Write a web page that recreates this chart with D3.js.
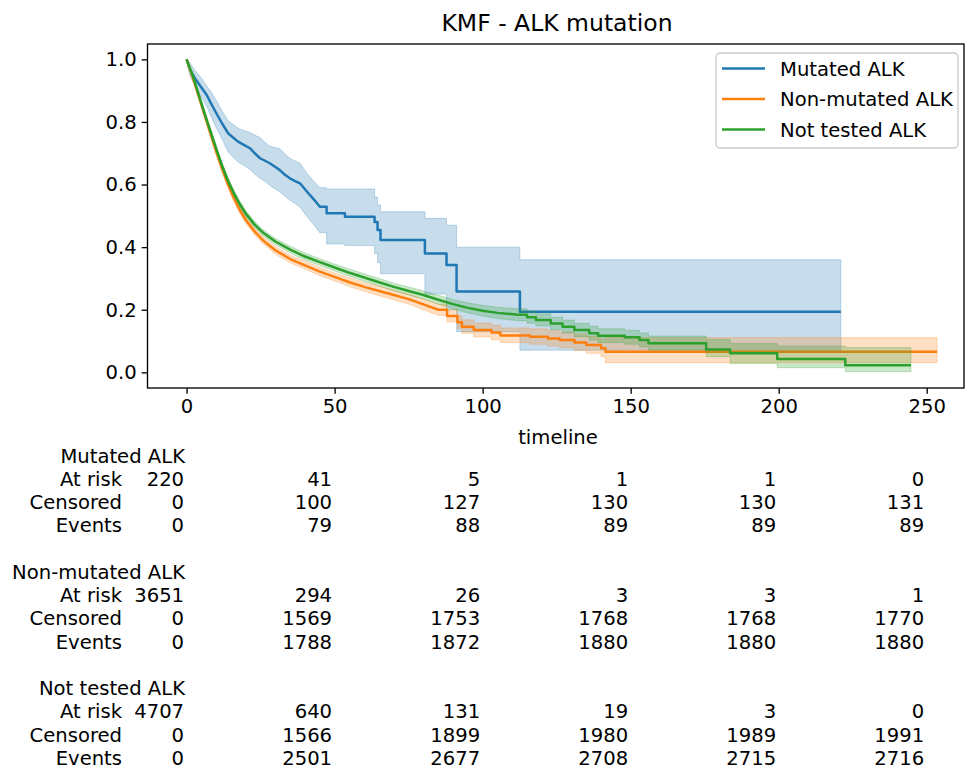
<!DOCTYPE html>
<html>
<head>
<meta charset="utf-8">
<script src="https://cdn.jsdelivr.net/npm/d3@7"></script>
<style>
  body { margin: 0; background: #fff; }
  svg text { font-family: "DejaVu Sans", sans-serif; fill: #000; }
</style>
</head>
<body>
<div id="chart"></div>
<script>
// Kaplan-Meier rows: [time, survival, lower CI, upper CI]
var mutatedKM = [
  [0, 1, 1, 1], [1, 0.97, 0.95, 0.99], [2.8, 0.94, 0.915, 0.965], [5, 0.91, 0.88, 0.94],
  [6.8, 0.886, 0.85, 0.915], [8.5, 0.855, 0.812, 0.893], [10.1, 0.827, 0.78, 0.868],
  [12, 0.795, 0.745, 0.835], [14, 0.764, 0.705, 0.805], [16, 0.748, 0.685, 0.79],
  [17.4, 0.737, 0.672, 0.78], [19.5, 0.726, 0.66, 0.772], [21.4, 0.716, 0.648, 0.766],
  [23, 0.7, 0.633, 0.758], [24.8, 0.684, 0.62, 0.75], [26.5, 0.676, 0.61, 0.735],
  [28.1, 0.668, 0.598, 0.722], [30, 0.656, 0.585, 0.718], [31.5, 0.646, 0.577, 0.714],
  [33, 0.633, 0.564, 0.7], [34.9, 0.62, 0.55, 0.684], [36.5, 0.612, 0.54, 0.676],
  [38.3, 0.604, 0.528, 0.668], [40, 0.585, 0.506, 0.645], [41.7, 0.566, 0.486, 0.624],
  [43.4, 0.548, 0.466, 0.606], [45, 0.529, 0.446, 0.59], [47.3, 0.508, 0.41, 0.586],
  [53.5, 0.497, 0.405, 0.586], [63.5, 0.48, 0.38, 0.56], [64.5, 0.455, 0.35, 0.535],
  [65.5, 0.423, 0.315, 0.513], [80.5, 0.38, 0.25, 0.492], [87.8, 0.343, 0.2, 0.47],
  [91.2, 0.258, 0.13, 0.4], [112.6, 0.194, 0.071, 0.36], [221, 0.194, 0.071, 0.36]
];

var nonMutatedKM = [
  [0, 1, 1, 1], [2, 0.945, 0.938, 0.952], [4, 0.885, 0.876, 0.894], [6, 0.825, 0.815, 0.835],
  [8, 0.765, 0.754, 0.776], [10, 0.705, 0.694, 0.716], [12, 0.65, 0.639, 0.661],
  [14, 0.6, 0.589, 0.611], [16, 0.556, 0.545, 0.567], [18, 0.518, 0.507, 0.529],
  [20, 0.487, 0.476, 0.498], [23, 0.45, 0.439, 0.461], [26, 0.42, 0.409, 0.432],
  [30, 0.39, 0.378, 0.402], [35, 0.362, 0.35, 0.374], [40, 0.342, 0.33, 0.355],
  [45, 0.322, 0.309, 0.335], [50, 0.305, 0.292, 0.318], [55, 0.288, 0.274, 0.302],
  [60, 0.273, 0.259, 0.287], [65, 0.26, 0.245, 0.275], [70, 0.247, 0.232, 0.262],
  [75, 0.234, 0.218, 0.25], [80, 0.217, 0.2, 0.234], [85, 0.2, 0.182, 0.218],
  [88, 0.18, 0.161, 0.2], [91.5, 0.16, 0.14, 0.181], [93, 0.146, 0.125, 0.168],
  [97, 0.135, 0.113, 0.158], [103, 0.127, 0.104, 0.151], [106, 0.118, 0.095, 0.142],
  [116, 0.114, 0.09, 0.139], [122, 0.108, 0.084, 0.133], [126, 0.103, 0.078, 0.129],
  [131, 0.095, 0.07, 0.122], [135, 0.087, 0.061, 0.115], [140, 0.077, 0.05, 0.106],
  [141.5, 0.066, 0.031, 0.111], [253.5, 0.066, 0.031, 0.111]
];

var notTestedKM = [
  [0, 1, 1, 1], [2, 0.95, 0.944, 0.956], [4, 0.89, 0.882, 0.898], [6, 0.83, 0.821, 0.839],
  [8, 0.772, 0.762, 0.782], [10, 0.715, 0.705, 0.725], [12, 0.66, 0.65, 0.67],
  [14, 0.612, 0.602, 0.622], [16, 0.572, 0.562, 0.582], [18, 0.537, 0.527, 0.547],
  [20, 0.507, 0.497, 0.517], [23, 0.472, 0.462, 0.482], [26, 0.445, 0.435, 0.455],
  [30, 0.418, 0.408, 0.428], [35, 0.392, 0.381, 0.403], [40, 0.37, 0.359, 0.381],
  [45, 0.352, 0.341, 0.363], [50, 0.335, 0.324, 0.346], [55, 0.318, 0.307, 0.33],
  [60, 0.303, 0.291, 0.315], [65, 0.288, 0.276, 0.3], [70, 0.273, 0.261, 0.285],
  [75, 0.26, 0.247, 0.273], [80, 0.247, 0.234, 0.26], [85, 0.232, 0.218, 0.246],
  [90, 0.218, 0.203, 0.233], [95, 0.206, 0.19, 0.222], [100, 0.197, 0.18, 0.214],
  [105, 0.19, 0.172, 0.208], [112, 0.184, 0.165, 0.203], [115, 0.176, 0.157, 0.195],
  [118, 0.167, 0.148, 0.187], [123, 0.156, 0.136, 0.176], [127, 0.146, 0.126, 0.167],
  [131, 0.135, 0.114, 0.156], [136, 0.125, 0.103, 0.147], [139, 0.117, 0.095, 0.139],
  [148, 0.112, 0.09, 0.134], [153, 0.103, 0.081, 0.126], [156, 0.093, 0.071, 0.116],
  [175.5, 0.073, 0.05, 0.105], [183.6, 0.061, 0.028, 0.092], [199.5, 0.043, 0.015, 0.084],
  [222.5, 0.023, 0.002, 0.079], [244.7, 0.023, 0.002, 0.079]
];

var groupNames = ["Mutated ALK", "Non-mutated ALK", "Not tested ALK"];
var groupColors = ["#1f77b4", "#ff7f0e", "#2ca02c"];
// before these times the curves are dense enough to draw as joined points
var stepFrom = [46, 86, 113];

var xTicks = [0, 50, 100, 150, 200, 250];
var yTicks = [0, 0.2, 0.4, 0.6, 0.8, 1.0];

// numbers at risk table, one column per x tick
var atRiskTimes = [0, 50, 100, 150, 200, 250];
var mutatedAtRisk = [220, 41, 5, 1, 1, 0];
var mutatedCensored = [0, 100, 127, 130, 130, 131];
var mutatedEvents = [0, 79, 88, 89, 89, 89];
var nonMutatedAtRisk = [3651, 294, 26, 3, 3, 1];
var nonMutatedCensored = [0, 1569, 1753, 1768, 1768, 1770];
var nonMutatedEvents = [0, 1788, 1872, 1880, 1880, 1880];
var notTestedAtRisk = [4707, 640, 131, 19, 3, 0];
var notTestedCensored = [0, 1566, 1899, 1980, 1989, 1991];
var notTestedEvents = [0, 2501, 2677, 2708, 2715, 2716];

var width = 965, height = 769;
var plotLeft = 147.5, plotRight = 964, plotTop = 44, plotBottom = 388;
var fontSize = 19.6;

var svg = d3.select("#chart").append("svg")
  .attr("width", width)
  .attr("height", height);

var x = d3.scaleLinear().domain([-13.2, 262.6]).range([plotLeft, plotRight]);
var y = d3.scaleLinear().domain([-0.05, 1.049]).range([plotBottom, plotTop]);

svg.append("clipPath").attr("id", "plot-clip")
  .append("rect")
  .attr("x", plotLeft).attr("y", plotTop)
  .attr("width", plotRight - plotLeft).attr("height", plotBottom - plotTop);

// turn KM rows into path vertices, adding the corner of each step
function stepPoints(rows, from) {
  var pts = [];
  rows.forEach(function (r, i) {
    if (i > 0 && r[0] > from) {
      var p = rows[i - 1];
      pts.push([r[0], p[1], p[2], p[3]]);
    }
    pts.push(r);
  });
  return pts;
}

var band = d3.area()
  .x(function (d) { return x(d[0]); })
  .y0(function (d) { return y(d[2]); })
  .y1(function (d) { return y(d[3]); });

var line = d3.line()
  .x(function (d) { return x(d[0]); })
  .y(function (d) { return y(d[1]); });

var plot = svg.append("g").attr("clip-path", "url(#plot-clip)");

[mutatedKM, nonMutatedKM, notTestedKM].forEach(function (rows, i) {
  var pts = stepPoints(rows, stepFrom[i]);
  plot.append("path")
    .attr("d", band(pts))
    .style("fill", groupColors[i])
    .style("fill-opacity", 0.25)
    .style("stroke", groupColors[i])
    .style("stroke-opacity", 0.25)
    .style("stroke-width", 1);
  plot.append("path")
    .attr("d", line(pts))
    .style("fill", "none")
    .style("stroke", groupColors[i])
    .style("stroke-width", 2.5)
    .style("stroke-linejoin", "round");
});

// axes
var xAxis = d3.axisBottom(x).tickValues(xTicks).tickSize(5.8).tickPadding(5)
  .tickFormat(d3.format("d"));
var yAxis = d3.axisLeft(y).tickValues(yTicks).tickSize(5.8).tickPadding(5)
  .tickFormat(d3.format(".1f"));

var gx = svg.append("g").attr("transform", "translate(0," + plotBottom + ")").call(xAxis);
var gy = svg.append("g").attr("transform", "translate(" + plotLeft + ",0)").call(yAxis);
[gx, gy].forEach(function (g) {
  g.select(".domain").remove();
  g.selectAll(".tick line").style("stroke", "#000").style("stroke-width", 1.33);
  g.selectAll(".tick text")
    .style("font-size", fontSize + "px")
    .style("font-family", "DejaVu Sans, sans-serif")
    .style("fill", "#000");
});

svg.append("rect")
  .attr("x", plotLeft).attr("y", plotTop)
  .attr("width", plotRight - plotLeft).attr("height", plotBottom - plotTop)
  .style("fill", "none")
  .style("stroke", "#000")
  .style("stroke-width", 1.33);

svg.append("text")
  .attr("x", 557).attr("y", 31)
  .attr("text-anchor", "middle")
  .style("font-size", "23.5px")
  .text("KMF - ALK mutation");

svg.append("text")
  .attr("x", 558).attr("y", 444)
  .attr("text-anchor", "middle")
  .style("font-size", fontSize + "px")
  .text("timeline");

// legend
var legend = svg.append("g");
legend.append("rect")
  .attr("x", 716).attr("y", 53)
  .attr("width", 242).attr("height", 95)
  .attr("rx", 4)
  .style("fill", "#fff")
  .style("fill-opacity", 0.8)
  .style("stroke", "#cccccc")
  .style("stroke-width", 1.33);

groupNames.forEach(function (name, i) {
  var ly = 68.5 + i * 30.5;
  legend.append("line")
    .attr("x1", 722).attr("x2", 765)
    .attr("y1", ly).attr("y2", ly)
    .style("stroke", groupColors[i])
    .style("stroke-width", 2.5);
  legend.append("text")
    .attr("x", 780).attr("y", ly + 7)
    .style("font-size", fontSize + "px")
    .text(name);
});

// at-risk table below the axis
var table = svg.append("g");
var rowGap = 23.25, tableTop = 462.5;
var groupRows = [
  [mutatedAtRisk, mutatedCensored, mutatedEvents],
  [nonMutatedAtRisk, nonMutatedCensored, nonMutatedEvents],
  [notTestedAtRisk, notTestedCensored, notTestedEvents]
];
var rowNames = ["At risk", "Censored", "Events"];

groupRows.forEach(function (rows, g) {
  var base = tableTop + g * 5 * rowGap;
  table.append("text")
    .attr("x", 185).attr("y", base)
    .attr("text-anchor", "end")
    .style("font-size", fontSize + "px")
    .text(groupNames[g]);
  rows.forEach(function (vals, r) {
    var ry = base + (r + 1) * rowGap;
    table.append("text")
      .attr("x", 122).attr("y", ry)
      .attr("text-anchor", "end")
      .style("font-size", fontSize + "px")
      .text(rowNames[r]);
    table.selectAll(null)
      .data(vals)
      .enter()
      .append("text")
      .attr("x", function (d, i) { return x(atRiskTimes[i]) - 2.5; })
      .attr("y", ry)
      .attr("text-anchor", "end")
      .style("font-size", fontSize + "px")
      .text(function (d) { return d; });
  });
});
</script>
</body>
</html>
